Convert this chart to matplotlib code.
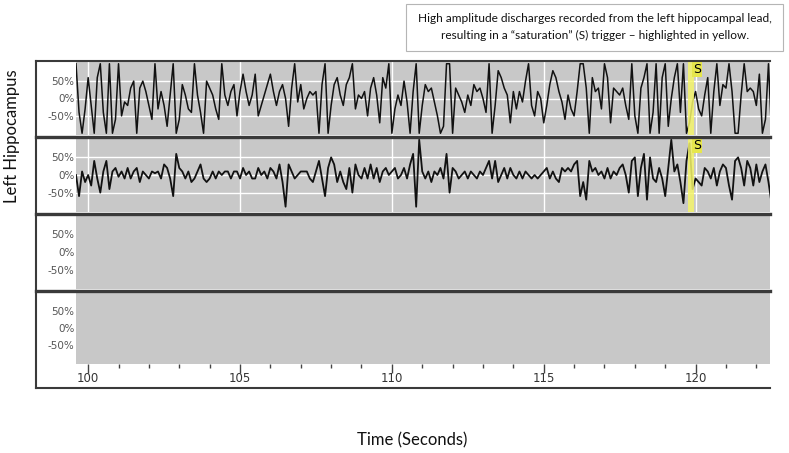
import numpy as np
import matplotlib.pyplot as plt
from matplotlib.lines import Line2D
from matplotlib.patches import Rectangle

# samples, 10 per second starting at 99.6 s (% of full scale)
t_start = 99.6
dt = 0.1
left_hippo_1 = [
    100, -40, -100, -30,
    60, -20, -100, 60, 100, -40, -100, 100, -100, -60,
    100, -50, -10, -20, 30, 50, -100, 30, 50, 20,
    -20, -60, 100, -30, 20, -20, -80, 10, 100, -100,
    -60, 40, 10, -30, -40, 100, 10, -40, -100, 50,
    30, 10, -30, -60, 100, 10, -20, 20, 40, -50,
    20, 70, 20, -20, 10, 70, -50, -20, 10, 40,
    70, 20, -20, 20, 40, 0, -80, 30, 100, -10,
    40, -30, 0, 20, 10, 20, -100, 40, 100, -100,
    -20, 40, 60, 10, -20, 40, 60, 100, -30, 10,
    0, 20, -50, 30, 60, 10, -70, 60, 30, 100,
    -100, -30, 10, -20, 50, -10, -100, 20, 100, -100,
    -20, 40, 20, 30, -10, -50, -100, -80, 100, 100,
    -100, 30, 10, -10, -40, 10, -20, 40, 20, 30,
    0, -40, 100, -100, -20, 80, 60, 30, 10, -70,
    20, -30, 20, -10, 50, 100, -20, -50, 20, 0,
    -70, -20, 40, 80, 60, 20, -10, -60, 10, -30,
    -50, 20, 100, 100, 30, -100, 60, 20, 30, -30,
    100, 60, -70, 30, 20, 10, 30, -20, -60, 100,
    -50, -100, 30, 60, 100, -100, -40, 100, -100, 60,
    100, -80, 0, 60, 100, -40, 100, -100, -70, -10,
    20, -30, -50, 10, 60, -100, 20, 100, -20, 40,
    30, 100, 20, -100, -100, 10, 100, 20, 30, 20,
    -20, 70, -100, -60, 100, -100,
]
left_hippo_2 = [
    0, -60, 10, -20,
    0, -30, 40, -10, -50, 10, 40, -40, 10, 20,
    -5, 10, -10, 20, -10, 10, 20, -20, 10, 0,
    -10, 10, 5, 10, -10, 30, 20, -10, -60, 60,
    20, 10, -10, 10, -20, -10, 10, 30, -10, -20,
    -10, 10, -10, 10, 0, 10, 10, -10, 10, 10,
    -10, 20, 0, 10, -10, -10, 20, 0, 10, -10,
    20, 10, -10, 30, -20, -90, 30, 10, -10, 0,
    10, 10, 10, -10, -20, 10, 40, -10, -60, 20,
    50, 30, -20, 10, -20, -40, 20, -50, 30, 0,
    -10, 20, -10, 30, -10, 20, -20, 10, 20, 0,
    10, 20, -10, 0, 20, -10, 30, 60, -90, 100,
    10, -10, 10, -20, 10, 0, 20, -10, 60, -50,
    20, 10, -10, 0, 10, -10, 10, 0, -10, 10,
    0, 20, 40, -10, 40, -20, 0, 20, -10, 20,
    0, -10, 10, -10, 10, 0, -10, 0, -10, 0,
    10, 20, -10, 10, -10, -20, 20, 10, 20, 10,
    30, 40, -60, -20, -70, 40, 10, 20, 0, 10,
    -10, 20, -10, 10, 0, 20, 30, 0, -50, 40,
    50, -60, 20, 60, -70, 50, -10, -20, 20, -10,
    -60, 20, 100, 10, 30, -20, -80, 40, 90, -40,
    -10, -20, -30, 20, 10, -10, 20, -30, 10, 30,
    20, -30, -70, 40, 50, 20, -30, 40, 20, -30,
    30, -20, 10, 30, -20, -80,
]
time_s = t_start + dt * np.arange(len(left_hippo_1))

sat_start, sat_end = 119.74, 119.95
s_mark = 120.04

W, H = 789, 453
fig = plt.figure(figsize=(W / 100, H / 100), dpi=100)


def fx(px):
    return px / W


def fy(py):
    return 1 - py / H


rows = [(62, 135), (138, 212), (215, 289), (292, 364)]
traces = [left_hippo_1, left_hippo_2, None, None]
widths = [1.1, 1.3, None, None]
axes = []
for (top, bot), trace, lw in zip(rows, traces, widths):
    ax = fig.add_axes([fx(76), fy(bot), (770 - 76) / W, (bot - top) / H])
    ax.set_facecolor('#c8c8c8')
    ax.set_xlim(99.6, 122.45)
    ax.set_ylim(-105, 105)
    for s in ax.spines.values():
        s.set_visible(False)
    ax.set_yticks([50, 0, -50], ['50%', '0%', '-50%'])
    ax.tick_params(axis='y', length=0, pad=1, labelsize=7.5, labelcolor='#555555')
    ax.set_xticks(range(100, 121, 5))
    ax.set_xticks(range(100, 123), minor=True)
    if trace is not None:
        ax.set_axisbelow(True)
        ax.grid(True, color='white', lw=1)
        ax.plot(time_s, trace, color='#111111', lw=lw, zorder=2)
        ax.axvspan(sat_start, sat_end, color='#f4f46a', alpha=0.85, lw=0, zorder=3)
        ax.text(s_mark, 102, 'S', ha='center', va='top', fontsize=9, zorder=4,
                bbox=dict(boxstyle='square,pad=0.08', fc='#e6e64c', ec='none'))
    axes.append(ax)

for ax in axes[:-1]:
    ax.tick_params(axis='x', which='both', length=0, labelbottom=False)
axes[-1].tick_params(axis='x', which='major', length=6.5, width=1, color='#444444',
                     pad=-1, labelsize=8.5, labelcolor='#333333')
axes[-1].tick_params(axis='x', which='minor', length=3, width=1, color='#444444')

# outer frame and panel separators
frame = '#3a3a3a'
fig.add_artist(Line2D([fx(36), fx(770)], [fy(61), fy(61)], color=frame, lw=1.5))
fig.add_artist(Line2D([fx(36), fx(36)], [fy(61), fy(388)], color=frame, lw=1.5))
fig.add_artist(Line2D([fx(36), fx(770)], [fy(388), fy(388)], color=frame, lw=1.5))
for y in [136.5, 213.5, 290.5]:
    fig.add_artist(Line2D([fx(36), fx(770)], [fy(y), fy(y)], color=frame, lw=2.4))

# note box
fig.add_artist(Rectangle((fx(406), fy(51)), (783 - 406) / W, 47 / H, fill=False,
                         ec='#b5b5b5', lw=0.8))
fig.text(fx(595), fy(18), 'High amplitude discharges recorded from the left hippocampal lead,',
         ha='center', va='center', fontsize=8.6, family='Lato', color='#111111')
fig.text(fx(595), fy(35), 'resulting in a \u201csaturation\u201d (S) trigger \u2013 highlighted in yellow.',
         ha='center', va='center', fontsize=8.6, family='Lato', color='#111111')

fig.text(fx(412), fy(440), 'Time (Seconds)', ha='center', va='center', fontsize=12,
         family='Lato', color='#111111')
fig.text(fx(12), fy(136), 'Left Hippocampus', ha='center', va='center', rotation=90,
         fontsize=12, family='Lato', color='#111111')

fig.savefig('out.png', dpi=100)
